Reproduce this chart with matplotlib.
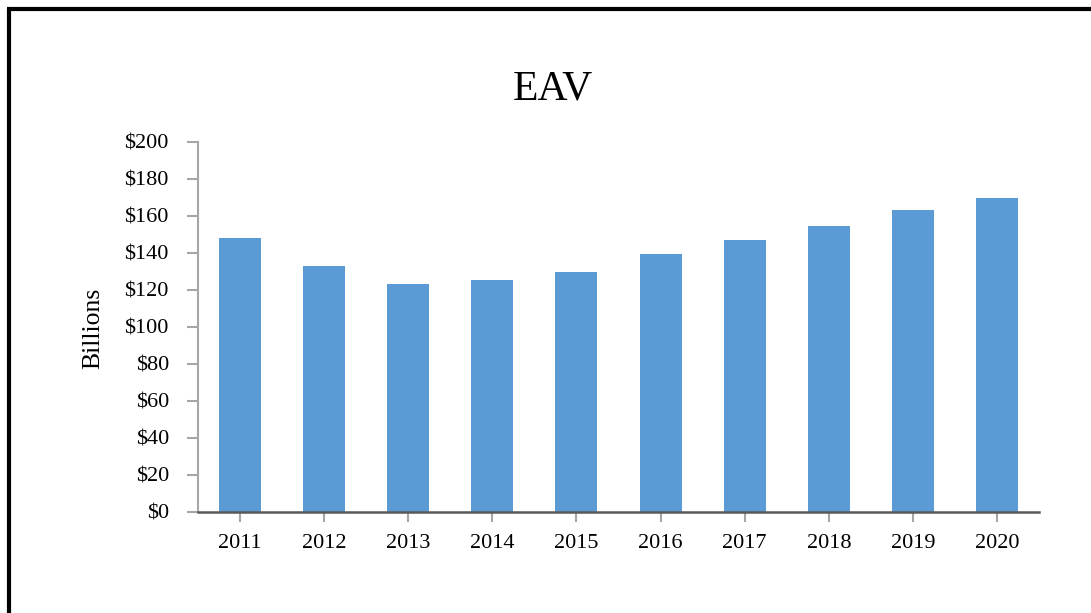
import matplotlib.pyplot as plt
from matplotlib.lines import Line2D

years = ['2011', '2012', '2013', '2014', '2015', '2016', '2017', '2018', '2019', '2020']
eav = [148.0, 132.8, 123.0, 125.2, 129.5, 139.3, 146.9, 154.5, 163.1, 169.6]
y_ticks = [0, 20, 40, 60, 80, 100, 120, 140, 160, 180, 200]
y_labels = ['$' + str(v) for v in y_ticks]

plt.rcParams['font.family'] = ['Liberation Serif', 'DejaVu Serif']

W, H = 1091, 613
fig = plt.figure(figsize=(W / 100, H / 100), dpi=100)
ax = fig.add_axes([198 / W, 1 - 511.5 / H, (1039 - 198) / W, (511.5 - 141.7) / H])

ax.bar(range(len(years)), eav, width=0.5, color='#5B9BD5')
ax.set_xlim(-0.5, len(years) - 0.5)
ax.set_ylim(0, 200)
ax.set_xticks(range(len(years)))
ax.set_xticklabels(years)
ax.set_yticks(y_ticks)
ax.set_yticklabels(y_labels)

for side in ['top', 'right']:
    ax.spines[side].set_visible(False)
ax.spines['left'].set_color('#A6A6A6')
ax.spines['left'].set_linewidth(1.5)
ax.spines['bottom'].set_color('#595959')
ax.spines['bottom'].set_linewidth(1.8)

ax.tick_params(axis='y', length=8, width=1.5, color='#A6A6A6', pad=13, labelsize=16)
ax.tick_params(axis='x', length=7, width=1.5, color='#A6A6A6', pad=9, labelsize=16)

fig.text(93 / W, 1 - 328 / H, 'Billions', rotation=90, ha='center', va='center', fontsize=18.5)
fig.text(553 / W, 1 - 89 / H, 'EAV', ha='center', va='center', fontsize=30)

# black frame on left and top edges
fig.add_artist(Line2D([9 / W, 9 / W], [0, 1 - 9 / H], transform=fig.transFigure,
                      color='black', linewidth=3, solid_capstyle='butt'))
fig.add_artist(Line2D([7 / W, 1], [1 - 9 / H, 1 - 9 / H], transform=fig.transFigure,
                      color='black', linewidth=3, solid_capstyle='butt'))

fig.savefig('out.png', dpi=100)
